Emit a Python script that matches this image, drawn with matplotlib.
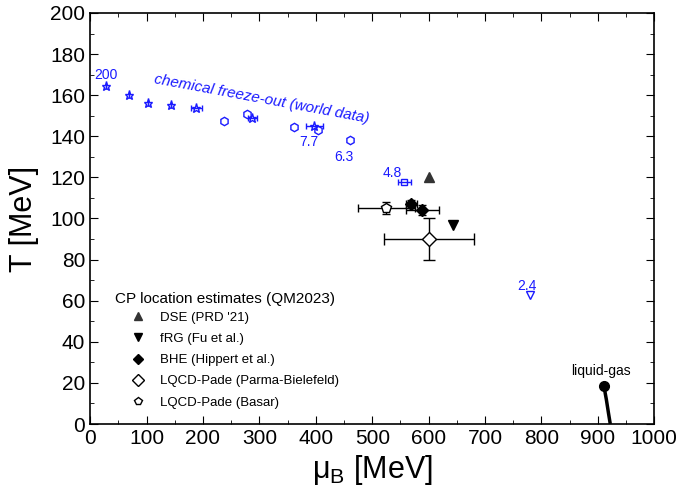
import numpy as np
import matplotlib
matplotlib.use("Agg")
import matplotlib.pyplot as plt
from matplotlib.ticker import MultipleLocator

plt.rcParams["font.family"] = ["Liberation Sans", "DejaVu Sans"]
plt.rcParams["mathtext.fontset"] = "custom"
plt.rcParams["mathtext.rm"] = "Liberation Sans"

# freeze-out (world data), blue
star_mu = [28, 69, 103, 144, 188, 287, 397]
star_T = [164.5, 160, 156, 155, 154, 149, 145]
star_xerr = [0, 0, 0, 0, 10, 8, 15]
hex_mu = [238, 278, 362, 404, 461]
hex_T = [147.5, 151, 144.5, 143, 138]
sq_mu, sq_T, sq_xerr = [557], [118], [12]
tri_mu, tri_T = [780], [63]
sqrt_s_labels = ["200", "7.7", "6.3", "4.8", "2.4"]
label_pos = [(28, 170), (388, 137), (450, 130), (535, 122), (775, 67)]

# CP location estimates
cp_title = "CP location estimates (QM2023)"
cp_labels = ["DSE (PRD '21)", "fRG (Fu et al.)", "BHE (Hippert et al.)",
             "LQCD-Pade (Parma-Bielefeld)", "LQCD-Pade (Basar)"]
dse_mu, dse_T = [600], [120]
frg_mu, frg_T = [643], [97]
bhe_mu, bhe_T = [569, 589], [107, 104]
bhe_xerr, bhe_yerr = [10, 30], [2, 2.5]
pb_mu, pb_T, pb_xerr, pb_yerr = [600], [90], [80], [10]
basar_mu, basar_T, basar_xerr, basar_yerr = [525], [105], [50], [3]

# liquid-gas
lg_mu = [911, 913, 915, 917, 919, 920.5, 922]
lg_T = [18.5, 15, 12, 8.5, 5, 2.5, 0]

blue = "#1a1aff"

fig = plt.figure(figsize=(6.78, 5), dpi=100)
ax = fig.add_axes([0.133, 0.152, 0.832, 0.822])

ax.errorbar(star_mu, star_T, xerr=star_xerr, fmt="*", ms=6.5, mfc="none", mec=blue,
            ecolor=blue, elinewidth=1, capsize=2, mew=1)
ax.plot(hex_mu, hex_T, "h", ms=6, mfc="none", mec=blue, mew=1)
ax.errorbar(sq_mu, sq_T, xerr=sq_xerr, fmt="s", ms=5, mfc="none", mec=blue,
            ecolor=blue, elinewidth=1, capsize=2, mew=1)
ax.plot(tri_mu, tri_T, "v", ms=6, mfc="none", mec=blue, mew=1)
for lab, (x, y) in zip(sqrt_s_labels, label_pos):
    ax.text(x, y, lab, color=blue, fontsize=10, ha="center", va="center")
ax.text(112, 164.5, "chemical freeze-out (world data)", color=blue, fontsize=11,
        style="italic", rotation=-10.5, rotation_mode="anchor", ha="left", va="bottom")

k = "black"
h1, = ax.plot(dse_mu, dse_T, "^", ms=6.5, color="#333333", ls="none")
h2, = ax.plot(frg_mu, frg_T, "v", ms=7.5, color=k, ls="none")
ax.errorbar(bhe_mu, bhe_T, xerr=bhe_xerr, yerr=bhe_yerr, fmt="none", ecolor=k,
            elinewidth=1, capsize=3)
h3, = ax.plot(bhe_mu, bhe_T, "D", ms=6, color=k, ls="none")
ax.errorbar(pb_mu, pb_T, xerr=pb_xerr, yerr=pb_yerr, fmt="none", ecolor=k,
            elinewidth=1, capsize=4)
h4, = ax.plot(pb_mu, pb_T, "D", ms=7, mfc="white", mec=k, mew=1, ls="none")
ax.errorbar(basar_mu, basar_T, xerr=basar_xerr, yerr=basar_yerr, fmt="none",
            ecolor=k, elinewidth=1, capsize=3)
h5, = ax.plot(basar_mu, basar_T, "p", ms=7, mfc="white", mec=k, mew=1, ls="none")

ax.text(44, 61, cp_title, fontsize=11, ha="left", va="center")
leg = ax.legend([h1, h2, h3, h4, h5], cp_labels, loc="lower left",
                bbox_to_anchor=(0.041, 0.015), frameon=False, fontsize=9.5,
                handletextpad=0.55, labelspacing=0.68, markerscale=0.85,
                handlelength=2.3, borderpad=0.2)

ax.plot(lg_mu, lg_T, color=k, lw=2.5, solid_capstyle="butt")
ax.plot(lg_mu[:1], lg_T[:1], "o", color=k, ms=7)
ax.text(905, 22.5, "liquid-gas", fontsize=10, ha="center", va="bottom")

ax.set_xlim(0, 1000)
ax.set_ylim(0, 200)
ax.xaxis.set_major_locator(MultipleLocator(100))
ax.xaxis.set_minor_locator(MultipleLocator(50))
ax.yaxis.set_major_locator(MultipleLocator(20))
ax.yaxis.set_minor_locator(MultipleLocator(10))
ax.tick_params(which="both", direction="in", top=True, right=True, labelsize=15)
ax.tick_params(which="major", length=6)
ax.tick_params(which="minor", length=3)
for s in ax.spines.values():
    s.set_linewidth(1.2)
ax.set_xlabel(r"$\mathregular{\mu_B}$ [MeV]", fontsize=22, labelpad=4)
ax.set_ylabel("T [MeV]", fontsize=22, labelpad=8)

fig.savefig("out.png", dpi=100)
